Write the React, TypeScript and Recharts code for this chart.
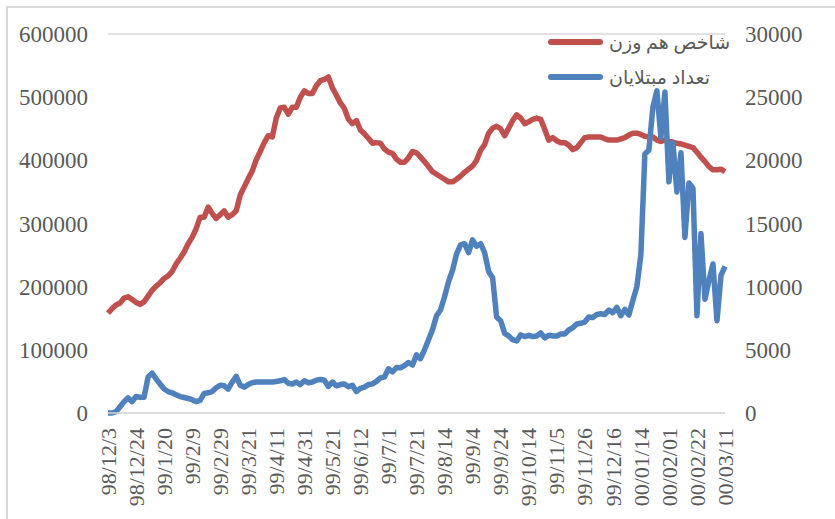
import React from "react";
import { LineChart, Line, XAxis, YAxis, CartesianGrid } from "recharts";

// tick labels on the date axis (one every 7 points)
const dateLabels = [
  "98/12/3", "98/12/24", "99/1/20", "99/2/9", "99/2/29", "99/3/21", "99/4/11",
  "99/4/31", "99/5/21", "99/6/12", "99/7/1", "99/7/21", "99/8/14", "99/9/4",
  "99/9/24", "99/10/14", "99/11/5", "99/11/26", "99/12/16", "00/01/14",
  "00/02/01", "00/02/22", "00/03/11",
];
const STEP = 7;

// شاخص هم وزن (thousands)
const indexK = [
  158, 165, 171, 174, 182, 184, 180, 175, 172, 176,
  185, 194, 201, 206, 213, 217, 224, 236, 245, 255,
  268, 278, 292, 310, 310, 326, 316, 308, 314, 320,
  310, 314, 320, 345, 358, 371, 383, 401, 414, 428,
  439, 437, 467, 483, 484, 473, 484, 484, 500, 510,
  506, 506, 518, 526, 528, 532, 515, 503, 491, 482,
  465, 458, 463, 448, 442, 435, 427, 428, 427, 418,
  413, 411, 402, 397, 397, 404, 414, 412, 405, 398,
  390, 382, 378, 374, 370, 366, 366, 370, 375, 381,
  386, 391, 400, 416, 425, 443, 451, 454, 450, 439,
  451, 463, 472, 467, 458, 461, 465, 467, 465, 449,
  432, 436, 431, 428, 428, 424, 417, 420, 428, 436,
  437, 437, 437, 437, 434, 432, 432, 432, 434, 436,
  440, 443, 443, 441, 438, 437, 437, 432, 430, 432,
  430, 429, 427, 426, 424, 422, 420, 413, 405, 398,
  390, 385, 385, 386, 382,
];

// تعداد مبتلایان
const cases = [
  0, 0, 100, 500, 900, 1200, 900, 1300, 1250, 1250,
  2850, 3150, 2700, 2300, 1900, 1700, 1600, 1450, 1300, 1230,
  1150, 1050, 900, 1000, 1550, 1600, 1700, 2000, 2200, 2150,
  1900, 2450, 2900, 2200, 2050, 2250, 2400, 2450, 2450, 2450,
  2450, 2450, 2500, 2550, 2650, 2350, 2300, 2450, 2250, 2550,
  2400, 2450, 2600, 2650, 2600, 2100, 2450, 2150, 2250, 2300,
  2080, 2200, 1700, 1950, 2050, 2250, 2300, 2500, 2780, 2850,
  3500, 3250, 3600, 3580, 3750, 4000, 3800, 4600, 4300, 5000,
  5800, 6600, 7700, 8150, 9200, 10400, 11300, 12600, 13300, 13400,
  12700, 13700, 13200, 13400, 12700, 11200, 10700, 7600, 7300, 6300,
  6100, 5800, 5700, 6180, 6050, 6150, 6050, 6100, 6340, 5950,
  6150, 6100, 6100, 6250, 6250, 6570, 6750, 7050, 7100, 7200,
  7600, 7550, 7800, 7850, 7800, 8150, 7950, 8350, 7700, 8200,
  7760, 8900, 10000, 12500, 20500, 20800, 24200, 25500, 21800, 25400,
  18300, 21400, 17500, 20600, 13900, 18200, 17800, 7700, 14200, 9000,
  10500, 11800, 7300, 10900, 11600,
];

const leftTicks = [0, 100000, 200000, 300000, 400000, 500000, 600000];
const rightTicks = [0, 5000, 10000, 15000, 20000, 25000, 30000];

const RED = "#C0504D";
const BLUE = "#4F81BD";
const TEXT = "#595959";
const GRID = "#D9D9D9";
const FONT = "'Liberation Serif', 'Times New Roman', 'DejaVu Sans', serif";

const data = indexK.map((v, i) => ({ i, index: v * 1000, cases: cases[i] }));
const xTicks = dateLabels.map((_, k) => k * STEP);

const DateTick = ({ x, y, payload }: any) => {
  const label = dateLabels[Math.round(payload.value / STEP)];
  return (
    <text
      x={x}
      y={y}
      transform={`rotate(-90, ${x}, ${y})`}
      textAnchor="end"
      dy="0.35em"
      fill={TEXT}
      fontSize={22}
      fontFamily={FONT}
    >
      {label}
    </text>
  );
};

export default function App() {
  return (
    <div
      style={{
        position: "absolute",
        left: 0,
        top: 0,
        width: 835,
        height: 519,
        overflow: "hidden",
        background: "#fff",
      }}
    >
      <div
        style={{
          position: "absolute",
          left: 6,
          top: 6,
          width: 900,
          height: 600,
          border: `2px solid ${GRID}`,
        }}
      />
      <LineChart
        width={835}
        height={519}
        data={data}
        margin={{ top: 34, right: 0, left: 0, bottom: 0 }}
        style={{ position: "absolute", left: 0, top: 0 }}
      >
        <CartesianGrid vertical={false} stroke={GRID} strokeWidth={1.5} />
        <XAxis
          dataKey="i"
          type="number"
          domain={[0, 154]}
          ticks={xTicks}
          interval={0}
          height={106}
          tickLine={false}
          tickSize={0}
          tickMargin={15}
          axisLine={{ stroke: GRID, strokeWidth: 1.5 }}
          tick={<DateTick />}
        />
        <YAxis
          yAxisId="left"
          width={108}
          domain={[0, 600000]}
          ticks={leftTicks}
          interval={0}
          axisLine={false}
          tickLine={false}
          tickSize={0}
          tickMargin={20}
          tick={{ fill: TEXT, fontSize: 23, fontFamily: FONT }}
        />
        <YAxis
          yAxisId="right"
          orientation="right"
          width={110}
          domain={[0, 30000]}
          ticks={rightTicks}
          interval={0}
          axisLine={false}
          tickLine={false}
          tickSize={0}
          tickMargin={20}
          tick={{ fill: TEXT, fontSize: 23, fontFamily: FONT, textAnchor: "start" }}
        />
        <Line
          yAxisId="left"
          type="linear"
          dataKey="index"
          stroke={RED}
          strokeWidth={5.5}
          strokeLinejoin="round"
          dot={false}
          isAnimationActive={false}
        />
        <Line
          yAxisId="right"
          type="linear"
          dataKey="cases"
          stroke={BLUE}
          strokeWidth={5.5}
          strokeLinejoin="round"
          dot={false}
          isAnimationActive={false}
        />
      </LineChart>
      {/* legend */}
      {[
        { name: "شاخص هم وزن", color: RED, top: 42 },
        { name: "تعداد مبتلایان", color: BLUE, top: 77 },
      ].map((item) => (
        <div
          key={item.name}
          style={{
            position: "absolute",
            left: 548,
            top: item.top - 14,
            height: 28,
            display: "flex",
            alignItems: "center",
          }}
        >
          <div
            style={{
              width: 55,
              height: 6,
              borderRadius: 3,
              background: item.color,
              marginRight: 6,
            }}
          />
          <span
            dir="rtl"
            style={{ fontFamily: FONT, fontSize: 19, color: TEXT, whiteSpace: "nowrap" }}
          >
            {item.name}
          </span>
        </div>
      ))}
    </div>
  );
}
